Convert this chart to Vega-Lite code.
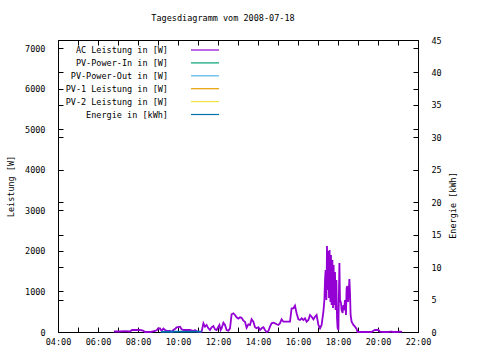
{
  "$schema": "https://vega.github.io/schema/vega-lite/v6.json",
  "width": 360,
  "height": 292,
  "autosize": {"type": "none"},
  "padding": {"left": 58, "top": 40, "right": 62, "bottom": 28},
  "background": "white",
  "title": {"text": "Tagesdiagramm vom 2008-07-18", "font": "DejaVu Sans Mono", "fontSize": 8.5, "fontWeight": "normal", "color": "black", "offset": 14, "dx": -15},
  "config": {
    "view": {"stroke": "black", "strokeWidth": 1},
    "font": "DejaVu Sans Mono",
    "axis": {"labelFont": "DejaVu Sans Mono", "labelFontSize": 8.5, "labelColor": "black", "titleFont": "DejaVu Sans Mono", "titleFontSize": 8.5, "titleFontWeight": "normal", "titleColor": "black", "grid": false, "domain": false, "tickColor": "black", "tickSize": -5, "tickWidth": 1, "format": "d"},
    "legend": {"labelFont": "DejaVu Sans Mono", "labelFontSize": 8.5, "labelColor": "black"}
  },
  "datasets": {
    "ac": [
      {"h":6.80,"W":12},{"h":7.10,"W":12},{"h":7.35,"W":20},{"h":7.60,"W":12},{"h":7.70,"W":49},{"h":7.85,"W":49},{"h":8.10,"W":49},{"h":8.25,"W":37},{"h":8.35,"W":0},{"h":8.60,"W":0},{"h":8.70,"W":12},{"h":8.85,"W":25},{"h":8.95,"W":49},{"h":9.00,"W":86},{"h":9.10,"W":86},{"h":9.18,"W":25},{"h":9.27,"W":86},{"h":9.35,"W":49},{"h":9.45,"W":25},{"h":9.60,"W":25},{"h":9.70,"W":0},{"h":9.77,"W":49},{"h":9.85,"W":74},{"h":9.93,"W":116},{"h":10.00,"W":123},{"h":10.10,"W":131},{"h":10.18,"W":67},{"h":10.27,"W":49},{"h":10.40,"W":49},{"h":10.60,"W":49},{"h":10.70,"W":37},{"h":10.77,"W":25},{"h":10.85,"W":49},{"h":10.95,"W":12},{"h":11.10,"W":0},{"h":11.18,"W":7},{"h":11.27,"W":214},{"h":11.35,"W":131},{"h":11.43,"W":173},{"h":11.52,"W":91},{"h":11.60,"W":49},{"h":11.68,"W":116},{"h":11.77,"W":148},{"h":11.85,"W":67},{"h":11.93,"W":49},{"h":12.02,"W":131},{"h":12.07,"W":173},{"h":12.13,"W":49},{"h":12.18,"W":91},{"h":12.27,"W":229},{"h":12.35,"W":173},{"h":12.43,"W":49},{"h":12.52,"W":32},{"h":12.60,"W":91},{"h":12.68,"W":436},{"h":12.77,"W":461},{"h":12.85,"W":419},{"h":12.93,"W":362},{"h":13.02,"W":328},{"h":13.10,"W":362},{"h":13.18,"W":353},{"h":13.27,"W":279},{"h":13.35,"W":254},{"h":13.43,"W":106},{"h":13.52,"W":190},{"h":13.60,"W":173},{"h":13.68,"W":313},{"h":13.77,"W":254},{"h":13.85,"W":116},{"h":13.93,"W":91},{"h":14.02,"W":116},{"h":14.10,"W":49},{"h":14.18,"W":91},{"h":14.27,"W":116},{"h":14.35,"W":49},{"h":14.43,"W":0},{"h":14.52,"W":25},{"h":14.60,"W":131},{"h":14.68,"W":214},{"h":14.77,"W":229},{"h":14.85,"W":214},{"h":14.93,"W":190},{"h":15.02,"W":173},{"h":15.10,"W":214},{"h":15.18,"W":313},{"h":15.27,"W":254},{"h":15.35,"W":254},{"h":15.50,"W":254},{"h":15.60,"W":254},{"h":15.68,"W":584},{"h":15.77,"W":584},{"h":15.85,"W":648},{"h":15.93,"W":461},{"h":16.02,"W":313},{"h":16.10,"W":296},{"h":16.18,"W":338},{"h":16.27,"W":296},{"h":16.35,"W":338},{"h":16.43,"W":254},{"h":16.52,"W":296},{"h":16.60,"W":419},{"h":16.68,"W":377},{"h":16.77,"W":313},{"h":16.85,"W":377},{"h":16.93,"W":419},{"h":17.02,"W":173},{"h":17.10,"W":91},{"h":17.18,"W":173},{"h":17.27,"W":503},{"h":17.32,"W":789},{"h":17.35,"W":1282},{"h":17.38,"W":1528},{"h":17.42,"W":789},{"h":17.45,"W":2120},{"h":17.48,"W":1035},{"h":17.52,"W":1997},{"h":17.55,"W":838},{"h":17.58,"W":2021},{"h":17.62,"W":740},{"h":17.65,"W":1898},{"h":17.68,"W":666},{"h":17.72,"W":1775},{"h":17.75,"W":592},{"h":17.78,"W":1652},{"h":17.82,"W":666},{"h":17.85,"W":1479},{"h":17.88,"W":542},{"h":17.92,"W":1282},{"h":17.95,"W":345},{"h":17.98,"W":99},{"h":18.02,"W":49},{"h":18.07,"W":1701},{"h":18.10,"W":789},{"h":18.15,"W":715},{"h":18.18,"W":542},{"h":18.23,"W":468},{"h":18.27,"W":666},{"h":18.30,"W":542},{"h":18.35,"W":789},{"h":18.40,"W":419},{"h":18.43,"W":1085},{"h":18.47,"W":1134},{"h":18.50,"W":740},{"h":18.53,"W":887},{"h":18.57,"W":1306},{"h":18.60,"W":961},{"h":18.63,"W":419},{"h":18.68,"W":254},{"h":18.77,"W":173},{"h":18.85,"W":131},{"h":18.93,"W":74},{"h":18.98,"W":0},{"h":19.10,"W":0},{"h":19.68,"W":0},{"h":19.77,"W":32},{"h":19.85,"W":49},{"h":20.02,"W":49},{"h":20.10,"W":7},{"h":20.27,"W":0},{"h":20.55,"W":0},{"h":20.60,"W":10},{"h":20.70,"W":10},{"h":20.75,"W":0},{"h":21.00,"W":0},{"h":21.05,"W":10},{"h":21.15,"W":10},{"h":21.20,"W":0}
    ],
    "energy": [
      {"h":9.15,"kWh":0.03},{"h":9.6,"kWh":0.04},{"h":10.1,"kWh":0.05},{"h":10.6,"kWh":0.06},{"h":11.18,"kWh":0.07}
    ]
  },
  "layer": [
    {
      "data": {"name": "ac"},
      "transform": [{"calculate": "'AC Leistung in [W]'", "as": "series"}],
      "mark": {"type": "line", "strokeWidth": 1.8},
      "encoding": {
        "x": {"field": "h", "type": "quantitative", "scale": {"domain": [4, 22], "nice": false, "zero": false},
          "axis": {"title": null, "values": [4,5,6,7,8,9,10,11,12,13,14,15,16,17,18,19,20,21,22], "labelExpr": "datum.value % 2 == 0 ? ((datum.value < 10 ? '0' : '') + datum.value + ':00') : ''", "labelPadding": 10, "labelFlush": false}},
        "y": {"field": "W", "type": "quantitative", "scale": {"domain": [0, 7200], "nice": false},
          "axis": {"title": "Leistung [W]", "values": [0,1000,2000,3000,4000,5000,6000,7000], "labelPadding": 18, "titleX": -48, "titleY": 146, "titleAngle": -90, "titleAlign": "center", "titleBaseline": "middle"}},
        "color": {"field": "series", "type": "nominal",
          "scale": {"domain": ["AC Leistung in [W]", "PV-Power-In in [W]", "PV-Power-Out in [W]", "PV-1 Leistung in [W]", "PV-2 Leistung in [W]", "Energie in [kWh]"],
                    "range": ["#9400D3", "#009E73", "#56B4E9", "#E69F00", "#F0E442", "#0072B2"]},
          "legend": {"title": null, "orient": "none", "legendX": 139.5, "legendY": 2.5, "padding": 0, "symbolType": "M-2.15,0H2.15", "symbolSize": 169, "symbolStrokeWidth": 1.2, "labelAlign": "right", "labelOffset": -44.5, "rowPadding": 0.9, "labelLimit": 300}}
      }
    },
    {
      "data": {"name": "energy"},
      "transform": [{"calculate": "'Energie in [kWh]'", "as": "series"}],
      "mark": {"type": "line", "strokeWidth": 1.8},
      "encoding": {
        "x": {"field": "h", "type": "quantitative", "scale": {"domain": [4, 22], "nice": false, "zero": false}, "axis": null},
        "y": {"field": "kWh", "type": "quantitative", "scale": {"domain": [0, 45], "nice": false},
          "axis": {"orient": "right", "title": "Energie [kWh]", "values": [0,5,10,15,20,25,30,35,40,45], "labelPadding": 18, "titleX": 34, "titleY": 165, "titleAngle": -90, "titleAlign": "center", "titleBaseline": "middle"}},
        "color": {"field": "series", "type": "nominal"}
      }
    },
    {
      "data": {"name": "ac"},
      "mark": {"type": "line", "opacity": 0},
      "encoding": {
        "x": {"field": "h", "type": "quantitative", "scale": {"domain": [4, 22], "nice": false, "zero": false},
          "axis": {"orient": "top", "title": null, "labels": false, "values": [4,5,6,7,8,9,10,11,12,13,14,15,16,17,18,19,20,21,22]}},
        "y": {"field": "W", "type": "quantitative", "scale": {"domain": [0, 7200], "nice": false},
          "axis": {"orient": "right", "title": null, "labels": false, "values": [0,1000,2000,3000,4000,5000,6000,7000]}}
      }
    },
    {
      "data": {"name": "energy"},
      "mark": {"type": "line", "opacity": 0},
      "encoding": {
        "x": {"field": "h", "type": "quantitative", "scale": {"domain": [4, 22], "nice": false, "zero": false}, "axis": null},
        "y": {"field": "kWh", "type": "quantitative", "scale": {"domain": [0, 45], "nice": false},
          "axis": {"orient": "left", "title": null, "labels": false, "values": [0,5,10,15,20,25,30,35,40,45]}}
      }
    }
  ],
  "resolve": {"scale": {"y": "independent", "x": "independent"}}
}
